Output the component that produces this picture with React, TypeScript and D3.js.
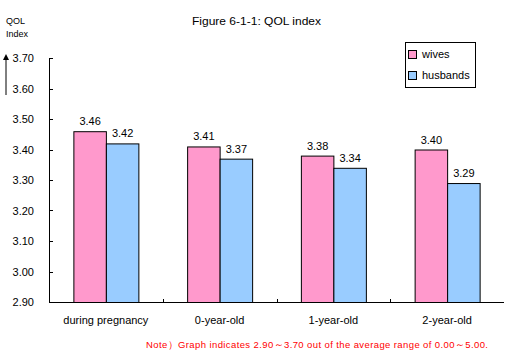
import React from "react";
import * as d3 from "d3";

const categories = ["during pregnancy", "0-year-old", "1-year-old", "2-year-old"];
const seriesNames = ["wives", "husbands"];
const wives = [3.46, 3.41, 3.38, 3.4];
const husbands = [3.42, 3.37, 3.34, 3.29];
const yTicks = [2.9, 3.0, 3.1, 3.2, 3.3, 3.4, 3.5, 3.6, 3.7];
const colors = ["#FF99CC", "#99CCFF"];

const W = 511;
const H = 357;
const left = 49;
const right = 504;
const top = 58;
const bottom = 302;
const font = "'Liberation Sans', Arial, sans-serif";

export default function App() {
  const y = d3.scaleLinear().domain([2.9, 3.7]).range([bottom, top]);
  const x0 = d3.scaleBand<string>().domain(categories).range([left, right]).paddingInner(0.4286).paddingOuter(0.2143);
  const x1 = d3.scaleBand<string>().domain(seriesNames).range([0, x0.bandwidth()]);
  const step = x0.step();
  const series = [wives, husbands];

  return (
    <svg width={W} height={H} style={{ position: "absolute", left: 0, top: 0, background: "#fff" }} fontFamily={font}>
      <text x={192} y={25} fontSize={11} textLength={129} lengthAdjust="spacingAndGlyphs">Figure 6-1-1: QOL index</text>
      <text x={6} y={24} fontSize={9}>QOL</text>
      <text x={6} y={37} fontSize={9}>Index</text>
      <line x1={6} x2={6} y1={95} y2={58} stroke="#000" strokeWidth={1} />
      <path d="M3,60 L6,54 L9,60 Z" fill="#000" />

      {/* bars */}
      {categories.map((c, i) =>
        seriesNames.map((s, j) => {
          const v = series[j][i];
          const bx = (x0(c) as number) + (x1(s) as number);
          return (
            <g key={c + s}>
              <rect x={bx + 0.5} y={y(v) + 0.5} width={x1.bandwidth()} height={bottom - y(v)} fill={colors[j]} stroke="#000" strokeWidth={1} />
              <text x={bx + x1.bandwidth() / 2 + 0.5} y={y(v) - 6} textAnchor="middle" fontSize={11}>{v.toFixed(2)}</text>
            </g>
          );
        })
      )}

      {/* y axis */}
      <line x1={left + 0.5} x2={left + 0.5} y1={top} y2={bottom + 0.5} stroke="#000" />
      {yTicks.map((t) => (
        <g key={t}>
          <line x1={left} x2={left + 4} y1={Math.round(y(t)) + 0.5} y2={Math.round(y(t)) + 0.5} stroke="#000" />
          <text x={34} y={y(t) + 4} textAnchor="end" fontSize={11}>{t.toFixed(2)}</text>
        </g>
      ))}

      {/* x axis */}
      <line x1={left} x2={right} y1={bottom + 0.5} y2={bottom + 0.5} stroke="#000" />
      {categories.map((c, i) => (
        <g key={c}>
          {i > 0 && (
            <line x1={Math.round(left + step * i) + 0.5} x2={Math.round(left + step * i) + 0.5} y1={bottom - 3} y2={bottom} stroke="#000" />
          )}
          <text x={(x0(c) as number) + x0.bandwidth() / 2} y={324} textAnchor="middle" fontSize={11}>{c}</text>
        </g>
      ))}

      {/* legend */}
      <rect x={405.5} y={42.5} width={70} height={45} fill="#fff" stroke="#000" />
      {seriesNames.map((s, j) => (
        <g key={s}>
          <rect x={408.5} y={50.5 + j * 21} width={8} height={8} fill={colors[j]} stroke="#000" />
          <text x={422} y={58 + j * 21} fontSize={11}>{s}</text>
        </g>
      ))}

      <text x={146} y={348} fontSize={9.5} fill="#FF0000" textLength={342} lengthAdjust="spacing">Note）Graph indicates 2.90～3.70 out of the average range of 0.00～5.00.</text>
    </svg>
  );
}
